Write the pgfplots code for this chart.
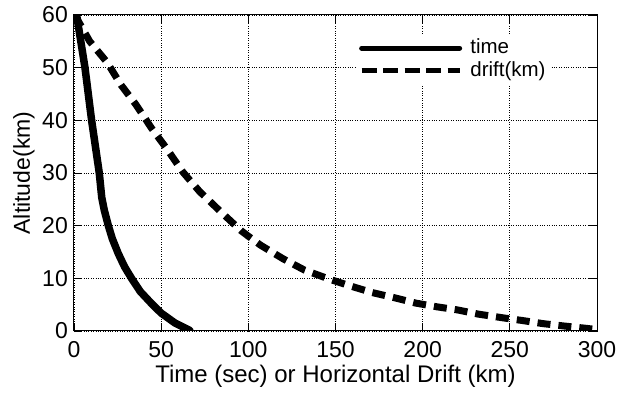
\documentclass[border=0pt]{standalone}
\usepackage{pgfplots}
\pgfplotsset{compat=1.18}
\usetikzlibrary{calc}
\usepackage{fontspec}
\setmainfont{Liberation Sans}
\newcommand\xlabfont{\fontsize{24}{28}\selectfont}
\newcommand\ylabfont{\fontsize{23}{27}\selectfont}
\newcommand\tickfont{\fontsize{23}{27}\selectfont}
\newcommand\legfont{\fontsize{20.5}{24}\selectfont}
\begin{document}
\tickfont
\begin{tikzpicture}
\begin{axis}[
  scale only axis,
  width=523pt, height=316pt,
  xmin=0, xmax=300, ymin=0, ymax=60,
  xtick={0,50,...,300}, ytick={0,10,...,60},
  tick align=inside,
  major tick length=8pt,
  tick style={black, line width=0.8pt},
  axis line style={line width=1pt},
  grid=major,
  major grid style={black, dotted, line width=0.9pt},
  /pgf/number format/assume math mode=true,
  every tick label/.append style={font=\tickfont},
  xticklabel style={inner sep=0pt, anchor=north, yshift=-10pt},
  yticklabel style={inner sep=0pt, anchor=east, xshift=-6pt},
  xlabel={Time (sec) or Horizontal Drift (km)},
  ylabel={Altitude(km)},
  xlabel style={font=\xlabfont, inner sep=0pt, at={(axis description cs:0.5,0)}, anchor=base, yshift=-52pt},
  ylabel style={font=\ylabfont, inner sep=0pt, at={(axis description cs:0,0.5)}, rotate=0, anchor=base, yshift=44pt},
  legend style={draw=none, fill=white, at={(0.541,0.937)}, anchor=north west,
    font=\legfont, row sep=0pt, inner sep=2pt},
  legend cell align=left,
]
\addplot[black, line width=7.5pt, line join=round, line cap=round,
  legend image code/.code={\draw[line width=5pt] (0pt,0pt) -- (98pt,0pt); \path (103pt,0pt);}]
  coordinates {
  (1.5,60) (6.3,50) (10.1,40) (12.3,35) (14.5,30) (15.9,25.4) (17.4,22.9)
  (19.7,20) (22,17.5) (25.4,14.7) (29,12.2) (33,10) (38,7.5) (44.5,5.2)
  (50,3.4) (58,1.5) (66.5,0.1)
  };
\addlegendentry{time}
\addplot[black, line width=7pt, line join=round, dash pattern=on 13pt off 8pt,
  legend image code/.code={\draw[line width=5pt, dash pattern=on 15pt off 6.5pt] (0pt,0pt) -- (98pt,0pt); \path (103pt,0pt);}]
  coordinates {
  (0.5,60) (9,55) (19,51) (27,46.7) (35.5,43) (44.5,38.5) (53,34.7)
  (62.4,30.2) (72,26.5) (84.6,22.5) (96,19) (100,18) (107,16.3) (120,13.7)
  (132,11.6) (146,9.9) (158,8.6) (171,7.3) (184,6.3) (196,5.3) (208,4.6)
  (220,4.0) (232,3.2) (246,2.5) (257,2.0) (269,1.4) (281,0.95) (294,0.5)
  (299,0.3)
  };
\addlegendentry{drift(km)}
\end{axis}
\pgfresetboundingbox
\path ($(current axis.south west)+(-74pt,-66pt)$) rectangle ($(current axis.north east)+(23pt,15pt)$);
\end{tikzpicture}
\end{document}
